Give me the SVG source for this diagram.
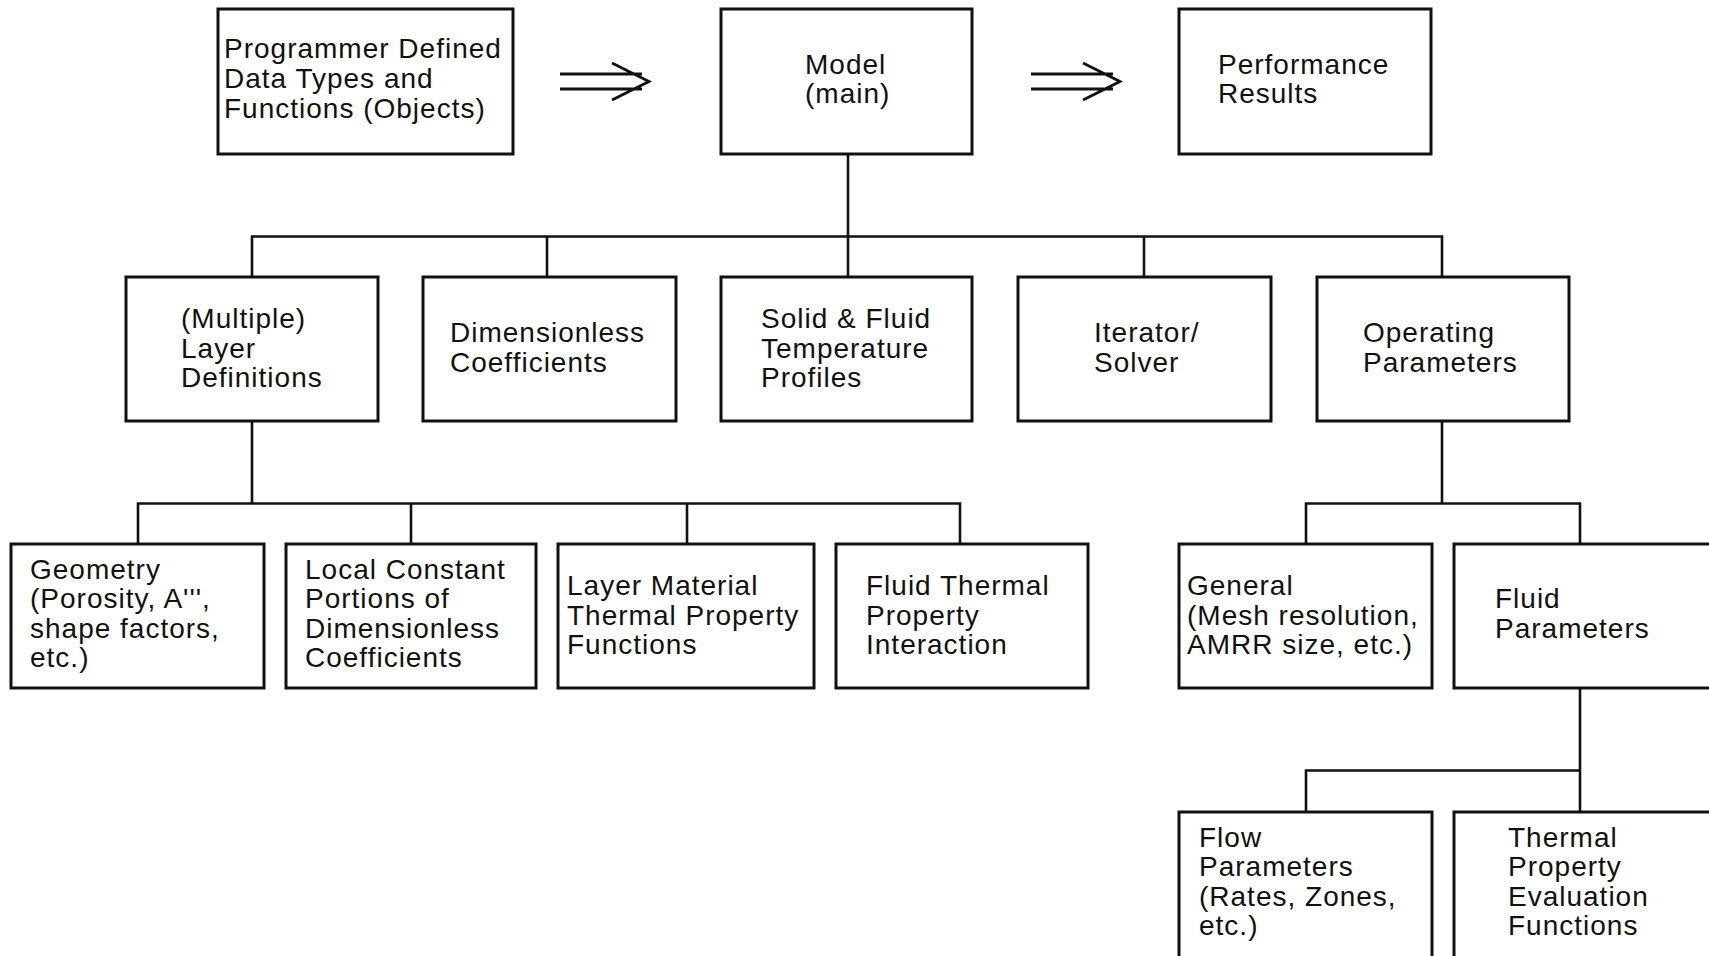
<svg xmlns="http://www.w3.org/2000/svg" width="1709" height="956" viewBox="0 0 1709 956">
<style>
.box{fill:#fff;stroke:#111;stroke-width:3}
.ln{fill:none;stroke:#111;stroke-width:2.6}
.ar{fill:none;stroke:#111;stroke-width:2.8}
text{font-family:"Liberation Sans",Arial,sans-serif;font-size:28px;letter-spacing:1px;fill:#111}
</style>
<rect width="1709" height="956" fill="#fff"/>
<g id="connectors">
<path class="ln" d="M848 154V236.5M252 277V236.5H1442V277M547 236.5V277M848 236.5V277M1144 236.5V277"/>
<path class="ln" d="M252 421V503.5M138 544V503.5H960V544M411 503.5V544M687 503.5V544"/>
<path class="ln" d="M1442 421V503.5M1306 544V503.5H1580V544"/>
<path class="ln" d="M1580 688V770.5M1306 812V770.5H1580V812"/>
<g id="arrow1" class="ar"><path d="M560 74H642M560 89H642M612 63L649 81.5L612 100"/></g>
<g id="arrow2" class="ar"><path d="M1031 74H1113M1031 89H1113M1083 63L1120 81.5L1083 100"/></g>
</g>
<g id="n-programmer"><rect class="box" x="218" y="9" width="295" height="145"/><text x="224"><tspan y="58">Programmer Defined</tspan><tspan x="224" y="88">Data Types and</tspan><tspan x="224" y="118">Functions (Objects)</tspan></text></g>
<g id="n-model"><rect class="box" x="721" y="9" width="251" height="145"/><text x="805"><tspan y="74">Model</tspan><tspan x="805" y="103">(main)</tspan></text></g>
<g id="n-performance"><rect class="box" x="1179" y="9" width="252" height="145"/><text x="1218"><tspan y="74">Performance</tspan><tspan x="1218" y="103">Results</tspan></text></g>
<g id="n-layer"><rect class="box" x="126" y="277" width="252" height="144"/><text x="181"><tspan y="328">(Multiple)</tspan><tspan x="181" y="357.5">Layer</tspan><tspan x="181" y="387">Definitions</tspan></text></g>
<g id="n-dimless"><rect class="box" x="423" y="277" width="253" height="144"/><text x="450"><tspan y="342">Dimensionless</tspan><tspan x="450" y="372">Coefficients</tspan></text></g>
<g id="n-profiles"><rect class="box" x="721" y="277" width="251" height="144"/><text x="761"><tspan y="328">Solid &amp; Fluid</tspan><tspan x="761" y="357.5">Temperature</tspan><tspan x="761" y="387">Profiles</tspan></text></g>
<g id="n-iterator"><rect class="box" x="1018" y="277" width="253" height="144"/><text x="1094"><tspan y="342">Iterator/</tspan><tspan x="1094" y="372">Solver</tspan></text></g>
<g id="n-operating"><rect class="box" x="1317" y="277" width="252" height="144"/><text x="1363"><tspan y="342">Operating</tspan><tspan x="1363" y="372">Parameters</tspan></text></g>
<g id="n-geometry"><rect class="box" x="11" y="544" width="253" height="144"/><text x="30"><tspan y="579">Geometry</tspan><tspan x="30" y="608">(Porosity, A''',</tspan><tspan x="30" y="638">shape factors,</tspan><tspan x="30" y="667">etc.)</tspan></text></g>
<g id="n-local"><rect class="box" x="286" y="544" width="250" height="144"/><text x="305"><tspan y="579">Local Constant</tspan><tspan x="305" y="608">Portions of</tspan><tspan x="305" y="638">Dimensionless</tspan><tspan x="305" y="667">Coefficients</tspan></text></g>
<g id="n-layermat"><rect class="box" x="558" y="544" width="256" height="144"/><text x="567"><tspan y="595">Layer Material</tspan><tspan x="567" y="625">Thermal Property</tspan><tspan x="567" y="654">Functions</tspan></text></g>
<g id="n-fluidthermal"><rect class="box" x="836" y="544" width="252" height="144"/><text x="866"><tspan y="595">Fluid Thermal</tspan><tspan x="866" y="625">Property</tspan><tspan x="866" y="654">Interaction</tspan></text></g>
<g id="n-general"><rect class="box" x="1179" y="544" width="253" height="144"/><text x="1187"><tspan y="595">General</tspan><tspan x="1187" y="625">(Mesh resolution,</tspan><tspan x="1187" y="654">AMRR size, etc.)</tspan></text></g>
<g id="n-fluidparams"><rect class="box" x="1454" y="544" width="262" height="144"/><text x="1495"><tspan y="608">Fluid</tspan><tspan x="1495" y="638">Parameters</tspan></text></g>
<g id="n-flow"><rect class="box" x="1179" y="812" width="253" height="150"/><text x="1199"><tspan y="847">Flow</tspan><tspan x="1199" y="876">Parameters</tspan><tspan x="1199" y="906">(Rates, Zones,</tspan><tspan x="1199" y="935">etc.)</tspan></text></g>
<g id="n-thermalprop"><rect class="box" x="1454" y="812" width="262" height="150"/><text x="1508"><tspan y="847">Thermal</tspan><tspan x="1508" y="876">Property</tspan><tspan x="1508" y="906">Evaluation</tspan><tspan x="1508" y="935">Functions</tspan></text></g>
</svg>
